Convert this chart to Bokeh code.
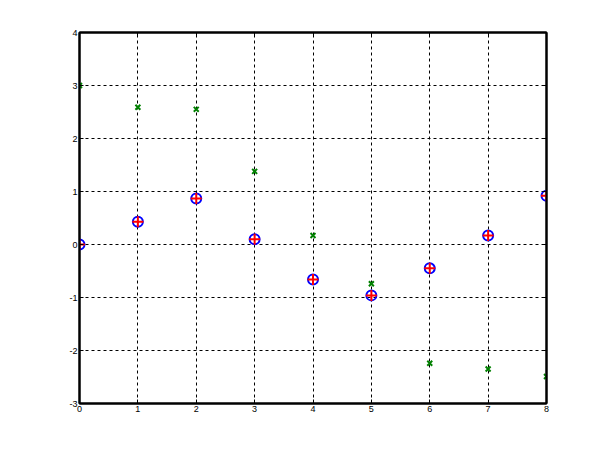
from bokeh.plotting import figure
from bokeh.models import Range1d, LinearAxis, FixedTicker, PrintfTickFormatter
from bokeh.embed import file_html
from bokeh.resources import INLINE

x_vals = [0, 1, 2, 3, 4, 5, 6, 7, 8]
y_circle = [0.0, 0.43, 0.87, 0.10, -0.66, -0.96, -0.45, 0.17, 0.92]
y_cross = [3.0, 2.59, 2.55, 1.38, 0.17, -0.74, -2.24, -2.35, -2.49]
x_ticks = [0, 1, 2, 3, 4, 5, 6, 7, 8]
y_ticks = [-3, -2, -1, 0, 1, 2, 3, 4]

p = figure(width=596, height=445, output_backend="svg", toolbar_location=None,
           x_range=Range1d(0, 8), y_range=Range1d(-3, 4),
           min_border_left=79, min_border_right=50, min_border_top=32, min_border_bottom=42)
p.background_fill_color = "white"
p.border_fill_color = "white"
p.outline_line_color = "black"
p.outline_line_width = 2

def style_axis(ax, show_labels=True):
    ax.axis_line_color = "black"
    ax.axis_line_width = 2
    ax.major_tick_in = 4
    ax.major_tick_out = 0
    ax.major_tick_line_width = 1
    ax.minor_tick_line_color = None
    ax.formatter = PrintfTickFormatter(format="%d")
    ax.major_label_text_font = "Liberation Sans"
    ax.major_label_text_font_size = "9px"
    ax.major_label_text_color = "black"
    ax.major_label_standoff = 2
    if not show_labels:
        ax.major_label_text_alpha = 0

p.xaxis.ticker = FixedTicker(ticks=x_ticks)
p.yaxis.ticker = FixedTicker(ticks=y_ticks)
style_axis(p.xaxis[0])
style_axis(p.yaxis[0])

top = LinearAxis(ticker=FixedTicker(ticks=x_ticks))
style_axis(top, False)
p.add_layout(top, "above")
right = LinearAxis(ticker=FixedTicker(ticks=y_ticks))
style_axis(right, False)
p.add_layout(right, "right")

p.xgrid.ticker = FixedTicker(ticks=x_ticks)
p.ygrid.ticker = FixedTicker(ticks=y_ticks)
for g in (p.xgrid[0], p.ygrid[0]):
    g.grid_line_color = "black"
    g.grid_line_dash = "3 3"
    g.grid_line_width = 1

p.scatter(x_vals, y_cross, marker="x", size=7, line_color="#008000", line_width=2)
p.scatter(x_vals, y_circle, marker="circle", size=10, fill_color=None, line_color="blue", line_width=2)
p.scatter(x_vals, y_circle, marker="cross", size=11, line_color="red", line_width=2)

open("out.html", "w").write(file_html(p, INLINE))
